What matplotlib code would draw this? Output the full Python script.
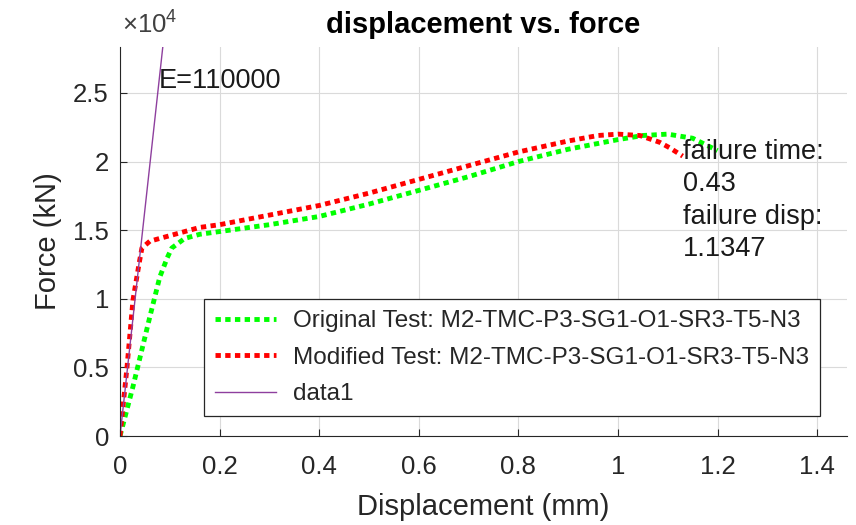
import matplotlib
matplotlib.use("Agg")
import matplotlib.pyplot as plt
from matplotlib.ticker import FuncFormatter

plt.rcParams['font.family'] = ['Liberation Sans', 'DejaVu Sans']
plt.rcParams['mathtext.fontset'] = 'custom'
plt.rcParams['mathtext.rm'] = 'Liberation Sans'

# original test (green), displacement in mm, force in N
orig_disp = [0, 0.026, 0.06, 0.08, 0.095, 0.104, 0.13, 0.16, 0.2, 0.3, 0.4, 0.5,
             0.6, 0.7, 0.8, 0.9, 1.0, 1.05, 1.1, 1.15, 1.2]
orig_force = [0, 3600, 8700, 11600, 13000, 13700, 14400, 14700, 14900, 15400, 16000,
              16900, 17900, 18900, 20000, 20900, 21600, 21900, 22000, 21700, 20800]

# modified test (red)
mod_disp = [0, 0.014, 0.026, 0.038, 0.044, 0.06, 0.1, 0.16, 0.2, 0.3, 0.4, 0.5,
            0.6, 0.7, 0.8, 0.9, 0.96, 1.0, 1.044, 1.084, 1.104, 1.13]
mod_force = [0, 5000, 9900, 12500, 13700, 14200, 14600, 15200, 15400, 16100, 16800,
             17700, 18700, 19700, 20700, 21500, 21900, 22000, 21900, 21400, 21000, 20400]

# modulus line
e_disp = [0, 0.1]
e_force = [0, 33000]

orig_name = 'Original Test: M2-TMC-P3-SG1-O1-SR3-T5-N3'
mod_name = 'Modified Test: M2-TMC-P3-SG1-O1-SR3-T5-N3'
fail_time = 0.43
fail_disp = 1.1347

dark = '#262626'

fig = plt.figure(figsize=(8.56, 5.25), dpi=100)
ax = fig.add_axes([0.1402, 0.1695, 0.8493, 0.741])

dots = (0, (1.1, 0.9))
ax.plot(orig_disp, orig_force, color='#00ff00', lw=3.5, linestyle=dots,
        dash_capstyle='butt', label=orig_name)
ax.plot(mod_disp, mod_force, color='#ff0000', lw=3.5, linestyle=dots,
        dash_capstyle='butt', label=mod_name)
ax.plot(e_disp, e_force, color='#8e3f9e', lw=1.0, label='data1')

ax.set_xlim(0, 1.46)
ax.set_ylim(0, 28350)
ax.set_xticks([0, 0.2, 0.4, 0.6, 0.8, 1.0, 1.2, 1.4])
ax.set_yticks([0, 5000, 10000, 15000, 20000, 25000])
ax.xaxis.set_major_formatter(FuncFormatter(lambda v, p: '%g' % v))
ax.yaxis.set_major_formatter(FuncFormatter(lambda v, p: '%g' % (v / 1e4)))

ax.grid(True, color='#dadada', lw=0.8)
ax.set_axisbelow(True)
for s in ['top', 'right']:
    ax.spines[s].set_visible(False)
for s in ['left', 'bottom']:
    ax.spines[s].set_color(dark)
    ax.spines[s].set_linewidth(0.8)
ax.tick_params(direction='in', length=5, width=0.8, colors=dark, labelsize=18.5)
ax.tick_params(axis='x', pad=14)
ax.tick_params(axis='y', pad=8)

ax.set_xlabel('Displacement (mm)', fontsize=21, color=dark, labelpad=10)
ax.set_ylabel('Force (kN)', fontsize=21, color=dark, labelpad=8)
ax.set_title('displacement vs. force', fontsize=21, fontweight='bold', pad=10)

fig.text(122 / 856, 1 - 33 / 525, '×10$^{4}$', fontsize=18.5, color='#404040', va='baseline')

ax.text(0.078, 25870, 'E=110000', fontsize=19.5, va='center', ha='left', color='#1a1a1a')
ax.text(1.1305, 17150, 'failure time:\n%g\nfailure disp:\n%g' % (fail_time, fail_disp),
        fontsize=19.5, va='center', ha='left', color='#1a1a1a', linespacing=1.32)

leg = ax.legend(loc='upper left', bbox_to_anchor=(0.1155, 0.352), borderaxespad=0,
                fontsize=17.5, handlelength=2.5, handletextpad=0.7, labelspacing=0.6,
                borderpad=0.45, fancybox=False, framealpha=1, edgecolor=dark)
leg.get_frame().set_linewidth(0.9)
for t in leg.get_texts():
    t.set_color(dark)

fig.savefig('out.png', dpi=100)
